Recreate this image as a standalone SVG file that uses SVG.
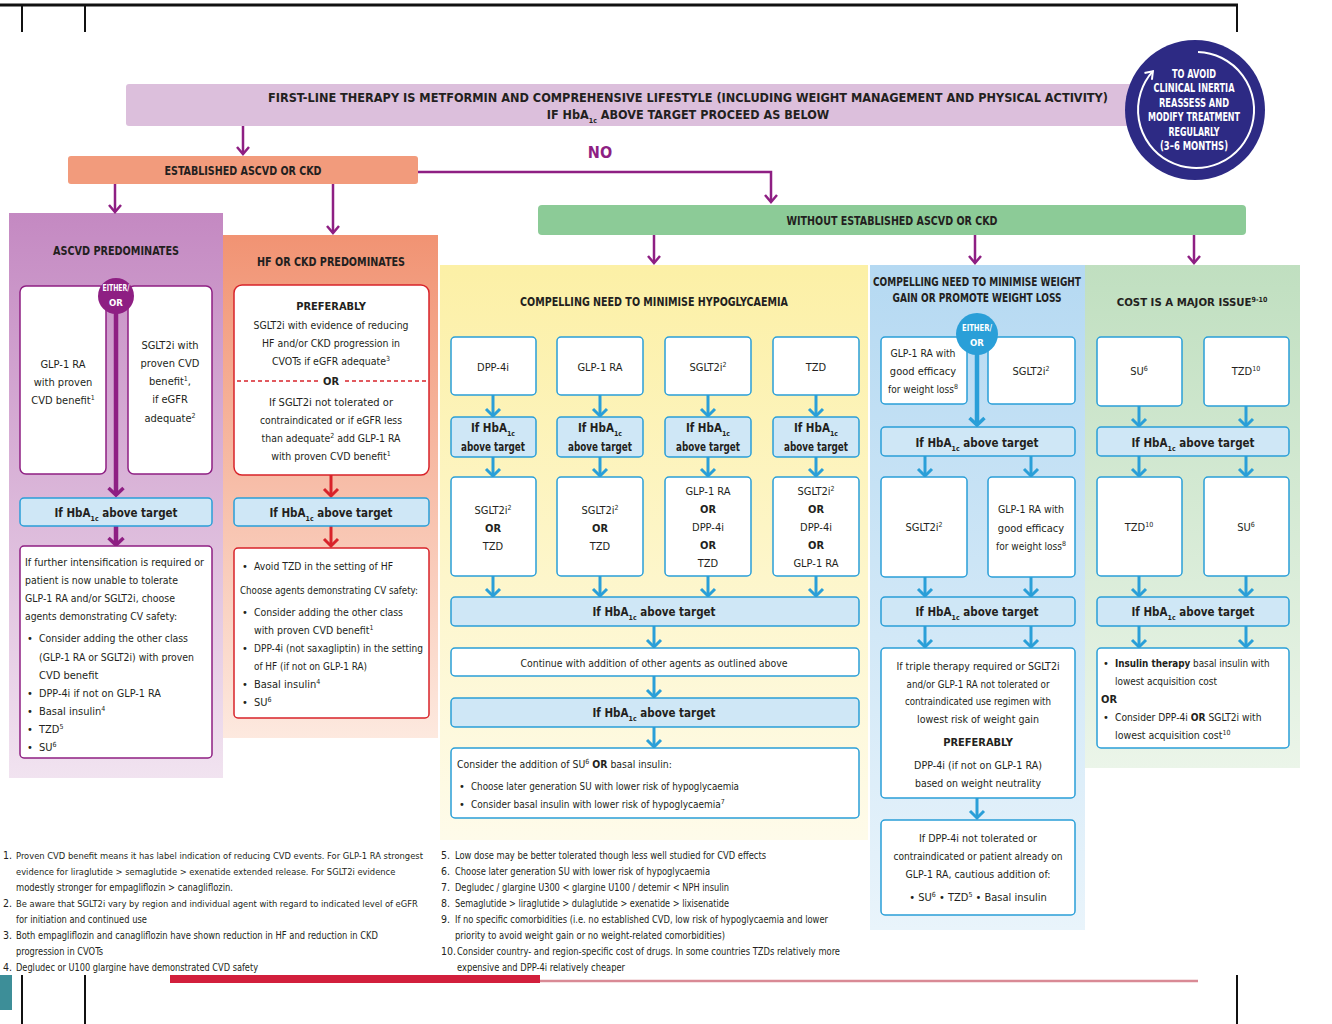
<svg xmlns="http://www.w3.org/2000/svg" width="1332" height="1024" viewBox="0 0 1332 1024">
<style>
text{font-family:"Liberation Sans Narrow","DejaVu Sans Condensed","Liberation Sans",sans-serif;fill:#231f20;font-size:11px}
.c{text-anchor:middle}
.b{font-weight:bold}
.h{font-weight:bold;font-size:13px;text-anchor:middle}
.hb{font-weight:bold;font-size:11.5px;text-anchor:middle}
.fn{font-size:10.5px}
.wc{fill:#fff;font-weight:bold;text-anchor:middle;font-size:12.5px}
.we{fill:#fff;font-weight:bold;text-anchor:middle;font-size:9.5px}
.sup{font-size:7px;baseline-shift:super}
.sub{font-size:7px;baseline-shift:sub}
.wb{fill:#fff;stroke:#2a9fd8;stroke-width:1.5}
.lb{fill:#cfe7f6;stroke:#2a9fd8;stroke-width:1.5}
.pb{fill:#fff;stroke:#8e1f83;stroke-width:1.5}
.rb{fill:#fff;stroke:#d8232a;stroke-width:1.5}
.ab{stroke:#2a9fd8;stroke-width:3;fill:none;marker-end:url(#mB)}
.ap{stroke:#8e1f83;stroke-width:2.5;fill:none;marker-end:url(#mP)}
.apt{stroke:#8e1f83;stroke-width:4.5;fill:none;marker-end:url(#mPT)}
.ar{stroke:#d8232a;stroke-width:3;fill:none;marker-end:url(#mR)}
.abt{stroke:#2a9fd8;stroke-width:4.5;fill:none;marker-end:url(#mBT)}
</style>
<defs>
<marker id="mB" viewBox="0 0 10 18" refX="8.5" refY="9" markerWidth="10" markerHeight="18" markerUnits="userSpaceOnUse" orient="auto" overflow="visible"><path d="M1.5,2 L8.5,9 L1.5,16" fill="none" stroke="#2a9fd8" stroke-width="3"/></marker>
<marker id="mBT" viewBox="0 0 10 18" refX="8.5" refY="9" markerWidth="10" markerHeight="18" markerUnits="userSpaceOnUse" orient="auto" overflow="visible"><path d="M1.5,1.5 L8.5,9 L1.5,16.5" fill="none" stroke="#2a9fd8" stroke-width="3.5"/></marker>
<marker id="mP" viewBox="0 0 10 16" refX="8.5" refY="8" markerWidth="10" markerHeight="16" markerUnits="userSpaceOnUse" orient="auto" overflow="visible"><path d="M1.5,2 L8.5,8 L1.5,14" fill="none" stroke="#8e1f83" stroke-width="2.5"/></marker>
<marker id="mPT" viewBox="0 0 10 18" refX="8.5" refY="9" markerWidth="10" markerHeight="18" markerUnits="userSpaceOnUse" orient="auto" overflow="visible"><path d="M1.5,1.5 L8.5,9 L1.5,16.5" fill="none" stroke="#8e1f83" stroke-width="3.5"/></marker>
<marker id="mR" viewBox="0 0 10 18" refX="8.5" refY="9" markerWidth="10" markerHeight="18" markerUnits="userSpaceOnUse" orient="auto" overflow="visible"><path d="M1.5,2 L8.5,9 L1.5,16" fill="none" stroke="#d8232a" stroke-width="3"/></marker>
<marker id="mW" viewBox="0 0 10 10" refX="8" refY="5" markerWidth="10" markerHeight="10" markerUnits="userSpaceOnUse" orient="auto" overflow="visible"><path d="M1,0 L8,5 L1,10" fill="none" stroke="#fff" stroke-width="2"/></marker>
<linearGradient id="gP" x1="0" y1="0" x2="0" y2="1"><stop offset="0" stop-color="#c489c2"/><stop offset="1" stop-color="#f1e3f0"/></linearGradient>
<linearGradient id="gS" x1="0" y1="0" x2="0" y2="1"><stop offset="0" stop-color="#f19373"/><stop offset="1" stop-color="#fde9df"/></linearGradient>
<linearGradient id="gY" x1="0" y1="0" x2="0" y2="1"><stop offset="0" stop-color="#fcf0a6"/><stop offset="1" stop-color="#fefbea"/></linearGradient>
<linearGradient id="gB" x1="0" y1="0" x2="0" y2="1"><stop offset="0" stop-color="#b5d9f2"/><stop offset="1" stop-color="#e9f4fb"/></linearGradient>
<linearGradient id="gG" x1="0" y1="0" x2="0" y2="1"><stop offset="0" stop-color="#c0dfc0"/><stop offset="1" stop-color="#ebf5e9"/></linearGradient>
</defs>
<rect width="1332" height="1024" fill="#fff"/>

<g id="frame">
<line x1="0" y1="5" x2="1238" y2="5" stroke="#111" stroke-width="3"/>
<line x1="22" y1="5" x2="22" y2="32" stroke="#111" stroke-width="2"/>
<line x1="85" y1="5" x2="85" y2="32" stroke="#111" stroke-width="2"/>
<line x1="1237" y1="5" x2="1237" y2="32" stroke="#111" stroke-width="2"/>
<line x1="22" y1="975" x2="22" y2="1024" stroke="#111" stroke-width="2"/>
<line x1="85" y1="975" x2="85" y2="1024" stroke="#111" stroke-width="2"/>
<line x1="1237" y1="975" x2="1237" y2="1024" stroke="#111" stroke-width="2"/>
<rect x="0" y="975" width="12" height="35" fill="#3d8e98"/>
<rect x="170" y="975" width="370" height="8" fill="#d21f3c"/>
<line x1="540" y1="981" x2="1198" y2="981" stroke="#d98a95" stroke-width="2.5"/>
</g>

<g id="panel-ascvd"><rect x="9" y="213" width="214" height="565" fill="url(#gP)"/>
<text class="h" x="116" y="255" textLength="126" lengthAdjust="spacingAndGlyphs">ASCVD PREDOMINATES</text></g>
<g id="panel-hf"><rect x="223" y="235" width="215" height="503" fill="url(#gS)"/>
<text class="h" x="331" y="266" textLength="148" lengthAdjust="spacingAndGlyphs">HF OR CKD PREDOMINATES</text></g>
<g id="panel-hypo"><rect x="440" y="265" width="428" height="575" fill="url(#gY)"/>
<text class="h" x="654" y="306" textLength="268" lengthAdjust="spacingAndGlyphs">COMPELLING NEED TO MINIMISE HYPOGLYCAEMIA</text></g>
<g id="panel-weight"><rect x="870" y="265" width="215" height="665" fill="url(#gB)"/>
<text class="h" x="977" y="286" textLength="208" lengthAdjust="spacingAndGlyphs">COMPELLING NEED TO MINIMISE WEIGHT</text>
<text class="h" x="977" y="302" textLength="169" lengthAdjust="spacingAndGlyphs">GAIN OR PROMOTE WEIGHT LOSS</text></g>
<g id="panel-cost"><rect x="1085" y="265" width="215" height="503" fill="url(#gG)"/>
<text class="h" x="1192" y="306" style="font-size:11.3px">COST IS A MAJOR ISSUE<tspan class="sup">9-10</tspan></text></g>

<g id="connectors">
<line class="ap" x1="243" y1="126" x2="243" y2="154"/>
<line class="ap" x1="115" y1="184" x2="115" y2="212"/>
<line class="ap" x1="333" y1="184" x2="333" y2="233"/>
<path class="ap" d="M418,172 H771 V202"/>
<line class="ap" x1="654" y1="235" x2="654" y2="263"/>
<line class="ap" x1="975" y1="235" x2="975" y2="263"/>
<line class="ap" x1="1194" y1="235" x2="1194" y2="263"/>
<line class="apt" x1="116" y1="312" x2="116" y2="495"/>
<line class="apt" x1="116" y1="526" x2="116" y2="545"/>
<line class="ar" x1="331" y1="475" x2="331" y2="496"/>
<line class="ar" x1="331" y1="526" x2="331" y2="546"/>
<line class="ab" x1="493" y1="395" x2="493" y2="416"/>
<line class="ab" x1="600" y1="395" x2="600" y2="416"/>
<line class="ab" x1="708" y1="395" x2="708" y2="416"/>
<line class="ab" x1="816" y1="395" x2="816" y2="416"/>
<line class="ab" x1="493" y1="457" x2="493" y2="476"/>
<line class="ab" x1="600" y1="457" x2="600" y2="476"/>
<line class="ab" x1="708" y1="457" x2="708" y2="476"/>
<line class="ab" x1="816" y1="457" x2="816" y2="476"/>
<line class="ab" x1="493" y1="576" x2="493" y2="596"/>
<line class="ab" x1="600" y1="576" x2="600" y2="596"/>
<line class="ab" x1="708" y1="576" x2="708" y2="596"/>
<line class="ab" x1="816" y1="576" x2="816" y2="596"/>
<line class="ab" x1="654" y1="626" x2="654" y2="647"/>
<line class="ab" x1="654" y1="676" x2="654" y2="697"/>
<line class="ab" x1="654" y1="727" x2="654" y2="747"/>
<line class="abt" x1="977" y1="354" x2="977" y2="425"/>
<line class="ab" x1="925" y1="456" x2="925" y2="476"/>
<line class="ab" x1="1031" y1="456" x2="1031" y2="476"/>
<line class="ab" x1="925" y1="577" x2="925" y2="596"/>
<line class="ab" x1="1031" y1="577" x2="1031" y2="596"/>
<line class="ab" x1="925" y1="626" x2="925" y2="647"/>
<line class="ab" x1="1031" y1="626" x2="1031" y2="647"/>
<line class="ab" x1="977" y1="798" x2="977" y2="818"/>
<line class="ab" x1="1139" y1="406" x2="1139" y2="426"/>
<line class="ab" x1="1246" y1="406" x2="1246" y2="426"/>
<line class="ab" x1="1139" y1="456" x2="1139" y2="476"/>
<line class="ab" x1="1246" y1="456" x2="1246" y2="476"/>
<line class="ab" x1="1139" y1="576" x2="1139" y2="596"/>
<line class="ab" x1="1246" y1="576" x2="1246" y2="596"/>
<line class="ab" x1="1139" y1="626" x2="1139" y2="647"/>
<line class="ab" x1="1246" y1="626" x2="1246" y2="647"/>
</g>

<g id="banner"><rect x="126" y="84" width="1014" height="42" rx="3" fill="#dcbfdc"/>
<text class="h" x="688" y="102" textLength="840" lengthAdjust="spacingAndGlyphs">FIRST-LINE THERAPY IS METFORMIN AND COMPREHENSIVE LIFESTYLE (INCLUDING WEIGHT MANAGEMENT AND PHYSICAL ACTIVITY)</text>
<text class="h" x="688" y="119" style="font-size:12.5px">IF HbA<tspan class="sub">1c</tspan> ABOVE TARGET PROCEED AS BELOW</text></g>

<g id="reassess"><circle cx="1195" cy="110" r="70" fill="#2d2a84"/>
<path d="M1198,52 A58,58 0 1 1 1152.9,71.2" fill="none" stroke="#fff" stroke-width="2" marker-end="url(#mW)"/>
<text class="wc" x="1194" y="78" textLength="44" lengthAdjust="spacingAndGlyphs">TO AVOID</text>
<text class="wc" x="1194" y="92" textLength="81" lengthAdjust="spacingAndGlyphs">CLINICAL INERTIA</text>
<text class="wc" x="1194" y="107" textLength="70" lengthAdjust="spacingAndGlyphs">REASSESS AND</text>
<text class="wc" x="1194" y="121" textLength="92" lengthAdjust="spacingAndGlyphs">MODIFY TREATMENT</text>
<text class="wc" x="1194" y="136" textLength="51" lengthAdjust="spacingAndGlyphs">REGULARLY</text>
<text class="wc" x="1194" y="150" textLength="68" lengthAdjust="spacingAndGlyphs">(3–6 MONTHS)</text></g>

<g id="no-label"><text x="600" y="158" style="font-size:16px;font-weight:bold;fill:#8e1f83;text-anchor:middle">NO</text></g>

<g id="established"><rect x="68" y="156" width="350" height="28" rx="3" fill="#f29b7c"/>
<text class="h" x="243" y="175" textLength="157" lengthAdjust="spacingAndGlyphs">ESTABLISHED ASCVD OR CKD</text></g>

<g id="without"><rect x="538" y="205" width="708" height="30" rx="4" fill="#8ccb97"/>
<text class="h" x="892" y="225" textLength="211" lengthAdjust="spacingAndGlyphs">WITHOUT ESTABLISHED ASCVD OR CKD</text></g>

<!-- ASCVD column -->
<g id="ascvd-glp1"><rect class="pb" x="20" y="286" width="86" height="188" rx="6"/>
<text class="c" x="63" y="368">GLP-1 RA</text><text class="c" x="63" y="386">with proven</text><text class="c" x="63" y="404">CVD benefit<tspan class="sup">1</tspan></text></g>
<g id="ascvd-sglt2"><rect class="pb" x="128" y="286" width="84" height="188" rx="6"/>
<text class="c" x="170" y="349">SGLT2i with</text><text class="c" x="170" y="367">proven CVD</text><text class="c" x="170" y="385">benefit<tspan class="sup">1</tspan>,</text><text class="c" x="170" y="403">if eGFR</text><text class="c" x="170" y="422">adequate<tspan class="sup">2</tspan></text></g>
<g id="ascvd-either"><circle cx="116" cy="296" r="18" fill="#8e1f83"/>
<text class="we" x="116" y="291" textLength="27" lengthAdjust="spacingAndGlyphs">EITHER/</text><text class="we" x="116" y="306">OR</text></g>
<g id="ascvd-hba1c"><rect class="lb" x="20" y="498" width="192" height="28" rx="4"/>
<text class="hb" x="116" y="517">If HbA<tspan class="sub">1c</tspan> above target</text></g>
<g id="ascvd-next"><rect class="pb" x="20" y="546" width="192" height="212" rx="4"/>
<text x="25" y="566" textLength="179" lengthAdjust="spacingAndGlyphs">If further intensification is required or</text>
<text x="25" y="584" textLength="153" lengthAdjust="spacingAndGlyphs">patient is now unable to tolerate</text>
<text x="25" y="602" textLength="150" lengthAdjust="spacingAndGlyphs">GLP-1 RA and/or SGLT2i, choose</text>
<text x="25" y="620" textLength="152" lengthAdjust="spacingAndGlyphs">agents demonstrating CV safety:</text>
<text x="27" y="642">•</text><text x="39" y="642" textLength="149" lengthAdjust="spacingAndGlyphs">Consider adding the other class</text>
<text x="39" y="661" textLength="155" lengthAdjust="spacingAndGlyphs">(GLP-1 RA or SGLT2i) with proven</text>
<text x="39" y="679">CVD benefit</text>
<text x="27" y="697">•</text><text x="39" y="697" textLength="122" lengthAdjust="spacingAndGlyphs">DPP-4i if not on GLP-1 RA</text>
<text x="27" y="715">•</text><text x="39" y="715">Basal insulin<tspan class="sup">4</tspan></text>
<text x="27" y="733">•</text><text x="39" y="733">TZD<tspan class="sup">5</tspan></text>
<text x="27" y="751">•</text><text x="39" y="751">SU<tspan class="sup">6</tspan></text></g>

<!-- HF column -->
<g id="hf-pref"><rect class="rb" x="234" y="285" width="195" height="190" rx="8"/>
<text class="c b" x="331" y="310">PREFERABLY</text>
<text class="c" x="331" y="329" textLength="155" lengthAdjust="spacingAndGlyphs">SGLT2i with evidence of reducing</text>
<text class="c" x="331" y="347" textLength="138" lengthAdjust="spacingAndGlyphs">HF and/or CKD progression in</text>
<text class="c" x="331" y="365" style="font-size:10.5px">CVOTs if eGFR adequate<tspan class="sup">3</tspan></text>
<line x1="237" y1="381" x2="318" y2="381" stroke="#d8232a" stroke-width="1.5" stroke-dasharray="4,3"/>
<line x1="345" y1="381" x2="427" y2="381" stroke="#d8232a" stroke-width="1.5" stroke-dasharray="4,3"/>
<text class="c b" x="331" y="385">OR</text>
<text class="c" x="331" y="406" textLength="124" lengthAdjust="spacingAndGlyphs">If SGLT2i not tolerated or</text>
<text class="c" x="331" y="424" textLength="142" lengthAdjust="spacingAndGlyphs">contraindicated or if eGFR less</text>
<text class="c" x="331" y="442" style="font-size:10.4px">than adequate<tspan class="sup">2</tspan> add GLP-1 RA</text>
<text class="c" x="331" y="460" style="font-size:10.5px">with proven CVD benefit<tspan class="sup">1</tspan></text></g>
<g id="hf-hba1c"><rect class="lb" x="234" y="498" width="195" height="28" rx="4"/>
<text class="hb" x="331" y="517">If HbA<tspan class="sub">1c</tspan> above target</text></g>
<g id="hf-next"><rect class="rb" x="234" y="548" width="195" height="170" rx="4"/>
<text x="242" y="570">•</text><text x="254" y="570" textLength="139" lengthAdjust="spacingAndGlyphs">Avoid TZD in the setting of HF</text>
<text x="240" y="594" textLength="178" lengthAdjust="spacingAndGlyphs">Choose agents demonstrating CV safety:</text>
<text x="242" y="616">•</text><text x="254" y="616" textLength="149" lengthAdjust="spacingAndGlyphs">Consider adding the other class</text>
<text x="254" y="634" style="font-size:10.5px">with proven CVD benefit<tspan class="sup">1</tspan></text>
<text x="242" y="652">•</text><text x="254" y="652" textLength="169" lengthAdjust="spacingAndGlyphs">DPP-4i (not saxagliptin) in the setting</text>
<text x="254" y="670" textLength="113" lengthAdjust="spacingAndGlyphs">of HF (if not on GLP-1 RA)</text>
<text x="242" y="688">•</text><text x="254" y="688">Basal insulin<tspan class="sup">4</tspan></text>
<text x="242" y="706">•</text><text x="254" y="706">SU<tspan class="sup">6</tspan></text></g>

<!-- Hypoglycaemia column -->
<g id="hy-dpp4"><rect class="wb" x="451" y="337" width="85" height="58" rx="4"/><text class="c" x="493" y="371">DPP-4i</text></g>
<g id="hy-glp1"><rect class="wb" x="557" y="337" width="86" height="58" rx="4"/><text class="c" x="600" y="371">GLP-1 RA</text></g>
<g id="hy-sglt2"><rect class="wb" x="665" y="337" width="86" height="58" rx="4"/><text class="c" x="708" y="371">SGLT2i<tspan class="sup">2</tspan></text></g>
<g id="hy-tzd"><rect class="wb" x="773" y="337" width="86" height="58" rx="4"/><text class="c" x="816" y="371">TZD</text></g>
<g id="hy-h1"><rect class="lb" x="451" y="417" width="85" height="40" rx="4"/><text class="hb" x="493" y="432">If HbA<tspan class="sub">1c</tspan></text><text class="hb" x="493" y="451" textLength="64" lengthAdjust="spacingAndGlyphs">above target</text></g>
<g id="hy-h2"><rect class="lb" x="557" y="417" width="86" height="40" rx="4"/><text class="hb" x="600" y="432">If HbA<tspan class="sub">1c</tspan></text><text class="hb" x="600" y="451" textLength="64" lengthAdjust="spacingAndGlyphs">above target</text></g>
<g id="hy-h3"><rect class="lb" x="665" y="417" width="86" height="40" rx="4"/><text class="hb" x="708" y="432">If HbA<tspan class="sub">1c</tspan></text><text class="hb" x="708" y="451" textLength="64" lengthAdjust="spacingAndGlyphs">above target</text></g>
<g id="hy-h4"><rect class="lb" x="773" y="417" width="86" height="40" rx="4"/><text class="hb" x="816" y="432">If HbA<tspan class="sub">1c</tspan></text><text class="hb" x="816" y="451" textLength="64" lengthAdjust="spacingAndGlyphs">above target</text></g>
<g id="hy-r1"><rect class="wb" x="451" y="477" width="85" height="99" rx="4"/>
<text class="c" x="493" y="514">SGLT2i<tspan class="sup">2</tspan></text><text class="c b" x="493" y="532">OR</text><text class="c" x="493" y="550">TZD</text></g>
<g id="hy-r2"><rect class="wb" x="557" y="477" width="86" height="99" rx="4"/>
<text class="c" x="600" y="514">SGLT2i<tspan class="sup">2</tspan></text><text class="c b" x="600" y="532">OR</text><text class="c" x="600" y="550">TZD</text></g>
<g id="hy-r3"><rect class="wb" x="665" y="477" width="86" height="99" rx="4"/>
<text class="c" x="708" y="495">GLP-1 RA</text><text class="c b" x="708" y="513">OR</text><text class="c" x="708" y="531">DPP-4i</text><text class="c b" x="708" y="549">OR</text><text class="c" x="708" y="567">TZD</text></g>
<g id="hy-r4"><rect class="wb" x="773" y="477" width="86" height="99" rx="4"/>
<text class="c" x="816" y="495">SGLT2i<tspan class="sup">2</tspan></text><text class="c b" x="816" y="513">OR</text><text class="c" x="816" y="531">DPP-4i</text><text class="c b" x="816" y="549">OR</text><text class="c" x="816" y="567">GLP-1 RA</text></g>
<g id="hy-h5"><rect class="lb" x="451" y="597" width="408" height="29" rx="4"/><text class="hb" x="654" y="616">If HbA<tspan class="sub">1c</tspan> above target</text></g>
<g id="hy-continue"><rect class="wb" x="451" y="648" width="408" height="28" rx="4"/><text class="c" x="654" y="667" textLength="267" lengthAdjust="spacingAndGlyphs">Continue with addition of other agents as outlined above</text></g>
<g id="hy-h6"><rect class="lb" x="451" y="698" width="408" height="29" rx="4"/><text class="hb" x="654" y="717">If HbA<tspan class="sub">1c</tspan> above target</text></g>
<g id="hy-final"><rect class="wb" x="451" y="748" width="408" height="70" rx="4"/>
<text x="457" y="768" style="font-size:10.4px">Consider the addition of SU<tspan class="sup">6</tspan> <tspan class="b">OR</tspan> basal insulin:</text>
<text x="459" y="790">•</text><text x="471" y="790" textLength="268" lengthAdjust="spacingAndGlyphs">Choose later generation SU with lower risk of hypoglycaemia</text>
<text x="459" y="808">•</text><text x="471" y="808" style="font-size:10px">Consider basal insulin with lower risk of hypoglycaemia<tspan class="sup">7</tspan></text></g>

<!-- Weight column -->
<g id="wt-glp1"><rect class="wb" x="881" y="337" width="86" height="67" rx="4"/>
<text class="c" x="923" y="357" textLength="65" lengthAdjust="spacingAndGlyphs">GLP-1 RA with</text><text class="c" x="923" y="375">good efficacy</text><text class="c" x="923" y="393" style="font-size:10px">for weight loss<tspan class="sup">8</tspan></text></g>
<g id="wt-sglt2"><rect class="wb" x="988" y="337" width="87" height="67" rx="4"/><text class="c" x="1031" y="375">SGLT2i<tspan class="sup">2</tspan></text></g>
<g id="wt-either"><circle cx="977" cy="334" r="21" fill="#2a9fd8"/>
<text class="we" x="977" y="331" textLength="30" lengthAdjust="spacingAndGlyphs">EITHER/</text><text class="we" x="977" y="346">OR</text></g>
<g id="wt-h1"><rect class="lb" x="881" y="427" width="194" height="29" rx="4"/><text class="hb" x="977" y="447">If HbA<tspan class="sub">1c</tspan> above target</text></g>
<g id="wt-r1"><rect class="wb" x="881" y="477" width="86" height="100" rx="4"/><text class="c" x="924" y="531">SGLT2i<tspan class="sup">2</tspan></text></g>
<g id="wt-r2"><rect class="wb" x="988" y="477" width="87" height="100" rx="4"/>
<text class="c" x="1031" y="513" textLength="66" lengthAdjust="spacingAndGlyphs">GLP-1 RA with</text><text class="c" x="1031" y="532">good efficacy</text><text class="c" x="1031" y="550" style="font-size:10px">for weight loss<tspan class="sup">8</tspan></text></g>
<g id="wt-h2"><rect class="lb" x="881" y="597" width="194" height="29" rx="4"/><text class="hb" x="977" y="616">If HbA<tspan class="sub">1c</tspan> above target</text></g>
<g id="wt-triple"><rect class="wb" x="881" y="648" width="194" height="150" rx="4"/>
<text class="c" x="978" y="670" textLength="163" lengthAdjust="spacingAndGlyphs">If triple therapy required or SGLT2i</text>
<text class="c" x="978" y="688" textLength="143" lengthAdjust="spacingAndGlyphs">and/or GLP-1 RA not tolerated or</text>
<text class="c" x="978" y="705" textLength="146" lengthAdjust="spacingAndGlyphs">contraindicated use regimen with</text>
<text class="c" x="978" y="723" textLength="122" lengthAdjust="spacingAndGlyphs">lowest risk of weight gain</text>
<text class="c b" x="978" y="746">PREFERABLY</text>
<text class="c" x="978" y="769" textLength="128" lengthAdjust="spacingAndGlyphs">DPP-4i (if not on GLP-1 RA)</text>
<text class="c" x="978" y="787" textLength="126" lengthAdjust="spacingAndGlyphs">based on weight neutrality</text></g>
<g id="wt-last"><rect class="wb" x="881" y="820" width="194" height="95" rx="4"/>
<text class="c" x="978" y="842" textLength="118" lengthAdjust="spacingAndGlyphs">If DPP-4i not tolerated or</text>
<text class="c" x="978" y="860" textLength="169" lengthAdjust="spacingAndGlyphs">contraindicated or patient already on</text>
<text class="c" x="978" y="878" textLength="145" lengthAdjust="spacingAndGlyphs">GLP-1 RA, cautious addition of:</text>
<text class="c" x="978" y="901">•  SU<tspan class="sup">6</tspan>  •  TZD<tspan class="sup">5</tspan>  •  Basal insulin</text></g>

<!-- Cost column -->
<g id="co-su"><rect class="wb" x="1097" y="337" width="85" height="69" rx="4"/><text class="c" x="1139" y="375">SU<tspan class="sup">6</tspan></text></g>
<g id="co-tzd"><rect class="wb" x="1204" y="337" width="85" height="69" rx="4"/><text class="c" x="1246" y="375">TZD<tspan class="sup">10</tspan></text></g>
<g id="co-h1"><rect class="lb" x="1097" y="427" width="192" height="29" rx="4"/><text class="hb" x="1193" y="447">If HbA<tspan class="sub">1c</tspan> above target</text></g>
<g id="co-r1"><rect class="wb" x="1097" y="477" width="85" height="99" rx="4"/><text class="c" x="1139" y="531">TZD<tspan class="sup">10</tspan></text></g>
<g id="co-r2"><rect class="wb" x="1204" y="477" width="85" height="99" rx="4"/><text class="c" x="1246" y="531">SU<tspan class="sup">6</tspan></text></g>
<g id="co-h2"><rect class="lb" x="1097" y="597" width="192" height="29" rx="4"/><text class="hb" x="1193" y="616">If HbA<tspan class="sub">1c</tspan> above target</text></g>
<g id="co-final"><rect class="wb" x="1097" y="648" width="192" height="100" rx="4"/>
<text x="1103" y="667">•</text><text x="1115" y="667" style="font-size:9.8px"><tspan class="b">Insulin therapy</tspan> basal insulin with</text>
<text x="1115" y="685" textLength="102" lengthAdjust="spacingAndGlyphs">lowest acquisition cost</text>
<text class="b" x="1101" y="703">OR</text>
<text x="1103" y="721">•</text><text x="1115" y="721" style="font-size:10.2px">Consider DPP-4i <tspan class="b">OR</tspan> SGLT2i with</text>
<text x="1115" y="739" style="font-size:10.5px">lowest acquisition cost<tspan class="sup">10</tspan></text></g>

<g id="footnotes">
<text class="fn" x="3" y="859">1.</text><text x="16" y="859" style="font-size:9.3px">Proven CVD benefit means it has label indication of reducing CVD events. For GLP-1 RA strongest</text>
<text x="16" y="875" style="font-size:9.3px">evidence for liraglutide &gt; semaglutide &gt; exenatide extended release. For SGLT2i evidence</text>
<text class="fn" x="16" y="891" textLength="217" lengthAdjust="spacingAndGlyphs">modestly stronger for empagliflozin &gt; canagliflozin.</text>
<text class="fn" x="3" y="907">2.</text><text x="16" y="907" style="font-size:9.3px">Be aware that SGLT2i vary by region and individual agent with regard to indicated level of eGFR</text>
<text class="fn" x="16" y="923" textLength="131" lengthAdjust="spacingAndGlyphs">for initiation and continued use</text>
<text class="fn" x="3" y="939">3.</text><text class="fn" x="16" y="939" textLength="362" lengthAdjust="spacingAndGlyphs">Both empagliflozin and canagliflozin have shown reduction in HF and reduction in CKD</text>
<text class="fn" x="16" y="955" textLength="87" lengthAdjust="spacingAndGlyphs">progression in CVOTs</text>
<text class="fn" x="3" y="971">4.</text><text class="fn" x="16" y="971" textLength="242" lengthAdjust="spacingAndGlyphs">Degludec or U100 glargine have demonstrated CVD safety</text>
<text class="fn" x="441" y="859">5.</text><text class="fn" x="455" y="859" textLength="311" lengthAdjust="spacingAndGlyphs">Low dose may be better tolerated though less well studied for CVD effects</text>
<text class="fn" x="441" y="875">6.</text><text class="fn" x="455" y="875" textLength="255" lengthAdjust="spacingAndGlyphs">Choose later generation SU with lower risk of hypoglycaemia</text>
<text class="fn" x="441" y="891">7.</text><text class="fn" x="455" y="891" textLength="274" lengthAdjust="spacingAndGlyphs">Degludec / glargine U300 &lt; glargine U100 / detemir &lt; NPH insulin</text>
<text class="fn" x="441" y="907">8.</text><text class="fn" x="455" y="907" textLength="274" lengthAdjust="spacingAndGlyphs">Semaglutide &gt; liraglutide &gt; dulaglutide &gt; exenatide &gt; lixisenatide</text>
<text class="fn" x="441" y="923">9.</text><text class="fn" x="455" y="923" textLength="373" lengthAdjust="spacingAndGlyphs">If no specific comorbidities (i.e. no established CVD, low risk of hypoglycaemia and lower</text>
<text class="fn" x="455" y="939" textLength="270" lengthAdjust="spacingAndGlyphs">priority to avoid weight gain or no weight-related comorbidities)</text>
<text class="fn" x="441" y="955">10.</text><text class="fn" x="457" y="955" textLength="383" lengthAdjust="spacingAndGlyphs">Consider country- and region-specific cost of drugs. In some countries TZDs relatively more</text>
<text class="fn" x="457" y="971" textLength="168" lengthAdjust="spacingAndGlyphs">expensive and DPP-4i relatively cheaper</text>
</g>
</svg>
